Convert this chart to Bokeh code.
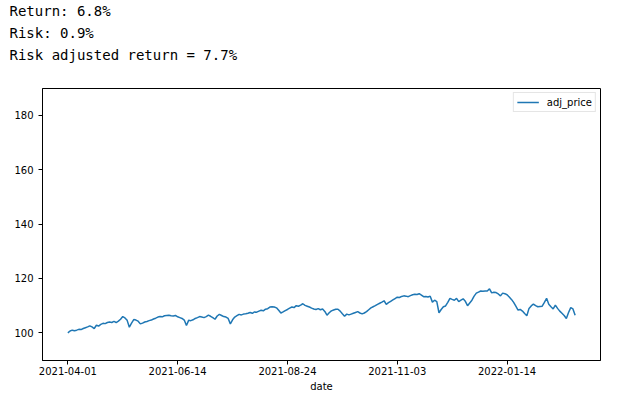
from bokeh.plotting import figure
from bokeh.models import Title, FixedTicker, Legend, LegendItem, ColumnDataSource, Range1d
from bokeh.embed import file_html
from bokeh.resources import INLINE

# ---- data ----
adj_price = [
    100.0, 100.7, 101.0, 100.8, 101.0, 101.3, 101.2, 101.6, 101.9, 102.2,
    102.6, 102.2, 101.6, 102.8, 102.5, 103.1, 103.5, 103.4, 103.8, 104.0,
    103.8, 104.2, 103.8, 104.3, 105.0, 106.0, 105.5, 104.6, 102.1, 103.6,
    104.9, 104.7, 104.3, 103.3, 103.6, 104.0, 104.2, 104.5, 104.7, 105.1,
    105.4, 105.8, 106.0, 105.9, 106.3, 106.4, 106.5, 106.3, 106.2, 106.4,
    105.9, 105.6, 105.3, 104.7, 102.7, 104.6, 104.5, 104.8, 105.3, 105.6,
    106.0, 105.8, 105.6, 106.0, 106.5, 106.1, 105.6, 105.0, 106.2, 106.8,
    106.4, 106.0, 105.8, 105.3, 103.3, 104.8, 105.8, 106.3, 106.8, 106.6,
    106.9, 107.0, 107.2, 107.5, 107.2, 107.7, 107.6, 108.0, 108.3, 108.1,
    108.7, 108.9, 109.5, 109.6, 109.5, 109.2, 108.3, 107.3, 107.7, 108.2,
    108.6, 109.1, 109.5, 109.3, 110.0, 109.8, 110.2, 110.7, 110.1, 109.8,
    109.5, 109.1, 108.8, 108.6, 108.9, 108.5, 108.8, 107.9, 106.5, 107.4,
    108.1, 108.4, 108.7, 108.7, 108.0, 107.0, 106.1, 106.9, 106.6, 106.9,
    107.2, 107.5, 107.8, 107.3, 107.0, 107.3, 107.8, 108.5, 109.2, 109.6,
    110.0, 110.5, 110.9, 111.3, 111.8, 110.5, 111.1, 111.6, 112.1, 112.6,
    113.1, 113.0, 113.4, 113.6, 113.5, 113.3, 113.7, 114.0, 114.2, 114.1,
    114.4, 113.9, 113.3, 113.4, 113.2, 113.5, 111.3, 112.0, 111.5, 107.4,
    108.6, 109.6, 109.9, 111.2, 112.7, 112.3, 112.0, 112.7, 111.5, 112.0,
    112.5, 111.6, 110.0, 111.0, 112.0, 113.5, 114.6, 115.0, 115.4, 115.3,
    115.4, 115.4, 116.2, 114.7, 114.9, 114.8, 114.3, 113.6, 114.6, 114.4,
    114.0, 113.2, 112.3, 111.2, 109.8, 108.4, 108.6, 108.0, 107.1, 106.3,
    109.0, 109.9, 110.6, 110.0, 109.6, 109.7, 109.8, 111.2, 112.7, 110.5,
    109.6, 108.8, 110.2, 109.0, 108.0, 107.2, 106.4, 105.3, 107.5, 109.3,
    108.8, 106.5,
]
tick_index = [0, 50, 100, 150, 200]
tick_labels = ["2021-04-01", "2021-06-14", "2021-08-24", "2021-11-03", "2022-01-14"]
y_ticks = [100, 120, 140, 160, 180]
summary_lines = ["Return: 6.8%", "Risk: 0.9%", "Risk adjusted return = 7.7%"]

n = len(adj_price)
src = ColumnDataSource(dict(x=list(range(n)), y=adj_price))

pad = 0.05 * (n - 1)
p = figure(output_backend="svg", toolbar_location=None,
           frame_width=558, frame_height=272,
           min_border_left=42, min_border_right=39,
           min_border_top=0, min_border_bottom=41,
           x_range=Range1d(-pad, (n - 1) + pad),
           y_range=Range1d(89.85, 189.8))
p.background_fill_color = "white"
p.border_fill_color = "white"
p.xgrid.visible = False
p.ygrid.visible = False
p.outline_line_color = "black"
p.outline_line_width = 1
p.outline_line_alpha = 1

r = p.line("x", "y", source=src, line_color="#1f77b4", line_width=1.5)

for ax in (p.xaxis[0], p.yaxis[0]):
    ax.minor_tick_line_color = None
    ax.major_tick_in = 0
    ax.major_tick_out = 4
    ax.axis_line_color = "black"
    ax.major_tick_line_color = "black"
    ax.major_label_text_font = "DejaVu Sans"
    ax.major_label_text_font_size = "10px"
    ax.major_label_text_color = "black"
    ax.axis_label_text_font = "DejaVu Sans"
    ax.axis_label_text_font_size = "10px"
    ax.axis_label_text_font_style = "normal"
    ax.axis_label_text_color = "black"

p.xaxis[0].ticker = FixedTicker(ticks=tick_index)
p.xaxis[0].major_label_overrides = {i: s for i, s in zip(tick_index, tick_labels)}
p.xaxis[0].major_label_standoff = 2
p.xaxis[0].axis_label = "date"
p.xaxis[0].axis_label_standoff = 3
p.yaxis[0].ticker = FixedTicker(ticks=y_ticks)
p.yaxis[0].major_label_standoff = 5

legend = Legend(items=[LegendItem(label="adj_price", renderers=[r])],
                location="top_right", margin=4, padding=3, spacing=0,
                glyph_width=22, glyph_height=12, label_height=12, label_standoff=8,
                label_text_font="DejaVu Sans", label_text_font_size="10px",
                label_text_color="black",
                border_line_color="#cccccc", border_line_width=1,
                background_fill_color="white", background_fill_alpha=0.8)
p.add_layout(legend)

# spacer between the text block and the plot frame
p.add_layout(Title(text=" ", text_font_size="1px", standoff=23), "above")
standoffs = [0, 8, 0]  # line 3, line 2, line 1 (nearest the frame first)
for txt, s in zip(reversed(summary_lines), standoffs):
    p.add_layout(Title(text=txt, align="left", offset=-33, standoff=s,
                       text_font="DejaVu Sans Mono", text_font_size="14px",
                       text_font_style="normal", text_color="black"), "above")

open("out.html", "w").write(file_html(p, INLINE))
